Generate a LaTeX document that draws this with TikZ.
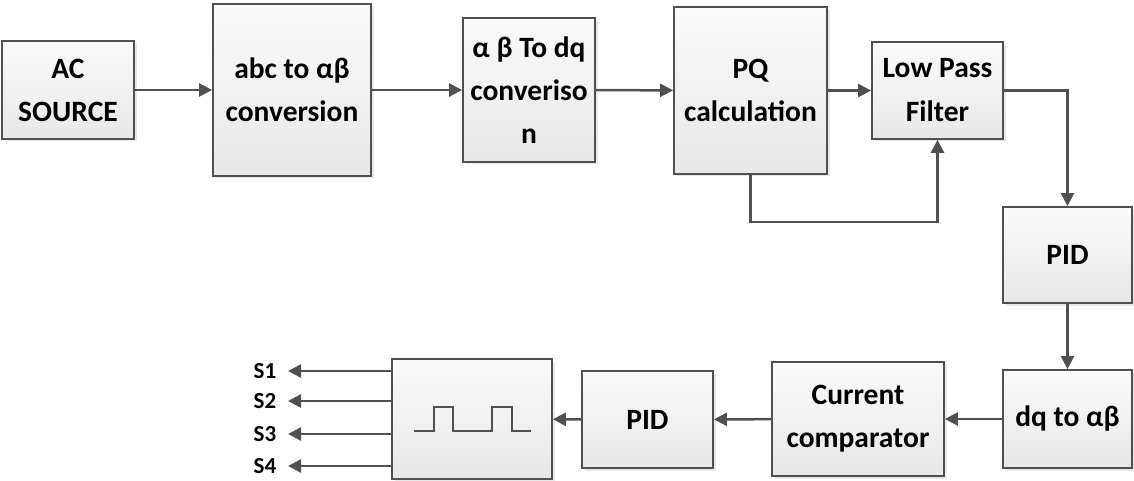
\documentclass[tikz,border=0pt]{standalone}
\usepackage{fontspec}
\setmainfont{Carlito}
\usetikzlibrary{arrows.meta,shadows}
\definecolor{edge}{HTML}{505050}
\definecolor{boxtop}{HTML}{FAFAFA}
\definecolor{boxbot}{HTML}{E8E8E8}
\tikzset{
  blk/.style={draw=edge, line width=1.8pt, top color=boxtop, bottom color=boxbot,
    align=center, inner sep=0pt, font=\bfseries\fontsize{29.5}{43}\selectfont,
    drop shadow={opacity=0.18, shadow xshift=2.5pt, shadow yshift=-2.5pt}},
  flow/.style={draw=edge, line width=2.5pt, -{Triangle[length=13pt,width=13pt]}},
  sig/.style={font=\bfseries\fontsize{23}{26}\selectfont, text=black, inner sep=0pt},
  wave/.style={draw=edge, line width=1.6pt}
}
\begin{document}
\begin{tikzpicture}[x=1pt,y=-1pt]
\useasboundingbox (0,0) rectangle (1134,481);
% top row
\node[blk, minimum width=132pt, minimum height=98pt] (ac) at (68,90) {AC\\SOURCE};
\node[blk, minimum width=158pt, minimum height=172pt] (abc) at (292,90) {abc to αβ\\conversion};
\node[blk, minimum width=132pt, minimum height=144pt] (ab2dq) at (529,90) {α β To dq\\converiso\\n};
\node[blk, minimum width=153pt, minimum height=167pt] (pq) at (750.5,90.5) {PQ\\calculation};
\node[blk, minimum width=131pt, minimum height=97pt, font=\bfseries\fontsize{29.5}{44}\selectfont] (lpf) at (937.5,90.5) {Low Pass\\Filter};
% right column
\node[blk, minimum width=129pt, minimum height=96pt] (pid1) at (1067.5,255) {PID};
\node[blk, minimum width=129pt, minimum height=98pt] (dq) at (1067.5,419) {dq to αβ};
% bottom row
\node[blk, minimum width=172pt, minimum height=114pt] (cc) at (858,419) {Current\\comparator};
\node[blk, minimum width=131pt, minimum height=97pt] (pid2) at (647.5,419.5) {PID};
\node[blk, minimum width=160pt, minimum height=120pt] (pwm) at (472,419) {};
% pulse train inside the modulator block
\draw[wave] (414,431) -- (434,431) -- (434,407) -- (453,407) -- (453,431)
  -- (492,431) -- (492,407) -- (512,407) -- (512,431) -- (531,431);
% switching signal labels
\node[sig] (s1) at (265,371) {S1};
\node[sig] (s2) at (265,401) {S2};
\node[sig] (s3) at (265,434) {S3};
\node[sig] (s4) at (265,466) {S4};
\coordinate (e1) at (288,371);
\coordinate (e2) at (288,401);
\coordinate (e3) at (288,434);
\coordinate (e4) at (288,466);
% forward path
\draw[flow] (ac) -- (abc);
\draw[flow] (abc) -- (ab2dq);
\draw[flow] (ab2dq) -- (pq);
\draw[flow] (pq) -- (lpf);
\draw[flow] (lpf.east) -| (pid1.north);
\draw[flow] (pid1) -- (dq);
\draw[flow] (dq) -- (cc);
\draw[flow] (cc) -- (pid2);
\draw[flow] (pid2) -- (pwm);
% feedback from PQ block into the filter
\coordinate (fb) at (750.5,222);
\draw[flow] (pq.south) -- (fb) -| (lpf.south);
% gate outputs
\draw[flow] (pwm.west |- e1) -- (e1);
\draw[flow] (pwm.west |- e2) -- (e2);
\draw[flow] (pwm.west |- e3) -- (e3);
\draw[flow] (pwm.west |- e4) -- (e4);
\end{tikzpicture}
\end{document}
